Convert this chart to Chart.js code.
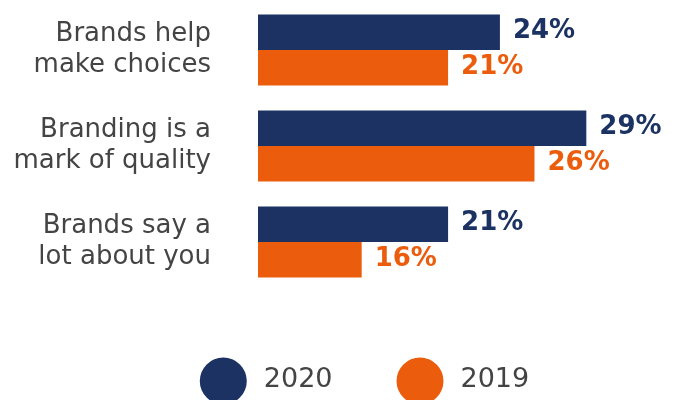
<!DOCTYPE html>
<html>
<head>
<meta charset="utf-8">
<script src="https://cdn.jsdelivr.net/npm/chart.js@4.4.1/dist/chart.umd.min.js"></script>
<style>
  html, body { margin: 0; padding: 0; background: #ffffff; }
  #wrap { width: 697px; height: 400px; position: relative; }
</style>
</head>
<body>
<div id="wrap"><canvas id="chart"></canvas></div>
<script>
// Category labels (two lines each)
const categories = [
  ['Brands help', 'make choices'],
  ['Branding is a', 'mark of quality'],
  ['Brands say a', 'lot about you']
];
// Share of respondents agreeing, in percent
const values2020 = [24, 29, 21];
const values2019 = [21, 26, 16];
const seriesNames = ['2020', '2019'];

const NAVY = '#1b3263';
const ORANGE = '#eb5c0c';
const TEXT = '#444444';
const FONT = "'DejaVu Sans', sans-serif";

// Percentage labels at the end of each bar
const valueLabels = {
  id: 'valueLabels',
  afterDatasetsDraw(chart) {
    const ctx = chart.ctx;
    ctx.save();
    ctx.font = "700 26px " + FONT;
    ctx.textBaseline = 'middle';
    ctx.textAlign = 'left';
    chart.data.datasets.forEach((ds, i) => {
      const meta = chart.getDatasetMeta(i);
      ctx.fillStyle = ds.backgroundColor;
      meta.data.forEach((bar, j) => {
        ctx.fillText(ds.data[j] + '%', bar.x + 13, bar.y - 1);
      });
    });
    ctx.restore();
  }
};

// Legend with large round swatches under the plot
const bigLegend = {
  id: 'bigLegend',
  afterDraw(chart) {
    const ctx = chart.ctx;
    const r = 23.5;
    const gapText = 17;
    const gapItems = 64;
    const cy = 381;
    ctx.save();
    ctx.font = "400 27px " + FONT;
    ctx.textBaseline = 'middle';
    ctx.textAlign = 'left';
    const items = chart.data.datasets.map(ds => ({
      label: ds.label, color: ds.backgroundColor,
      w: r * 2 + gapText + ctx.measureText(ds.label).width
    }));
    const total = items.reduce((s, it) => s + it.w, 0) + gapItems * (items.length - 1);
    let x = chart.width / 2 + 16 - total / 2;
    items.forEach(it => {
      ctx.fillStyle = it.color;
      ctx.beginPath();
      ctx.arc(x + r, cy, r, 0, Math.PI * 2);
      ctx.fill();
      ctx.fillStyle = TEXT;
      ctx.fillText(it.label, x + r * 2 + gapText, cy - 1);
      x += it.w + gapItems;
    });
    ctx.restore();
  }
};

new Chart(document.getElementById('chart'), {
  type: 'bar',
  data: {
    labels: categories,
    datasets: [
      { label: seriesNames[0], data: values2020, backgroundColor: NAVY },
      { label: seriesNames[1], data: values2019, backgroundColor: ORANGE }
    ]
  },
  options: {
    indexAxis: 'y',
    responsive: true,
    maintainAspectRatio: false,
    animation: false,
    events: [],
    layout: { padding: { top: 2, bottom: 110, left: 0, right: 7 } },
    datasets: { bar: { categoryPercentage: 0.74, barPercentage: 1.0 } },
    plugins: {
      legend: { display: false },
      tooltip: { enabled: false }
    },
    scales: {
      x: { display: false, min: 10, max: 35 },
      y: {
        grid: { display: false, drawTicks: false },
        border: { display: false },
        ticks: {
          color: TEXT,
          padding: 47,
          font: { family: FONT, size: 26, lineHeight: 1.2 }
        },
        afterFit(scale) {
          // fixed label column; no extra room above/below the plot
          scale.width = 258;
          scale.paddingTop = 0;
          scale.paddingBottom = 0;
        }
      }
    }
  },
  plugins: [valueLabels, bigLegend]
});
</script>
</body>
</html>
